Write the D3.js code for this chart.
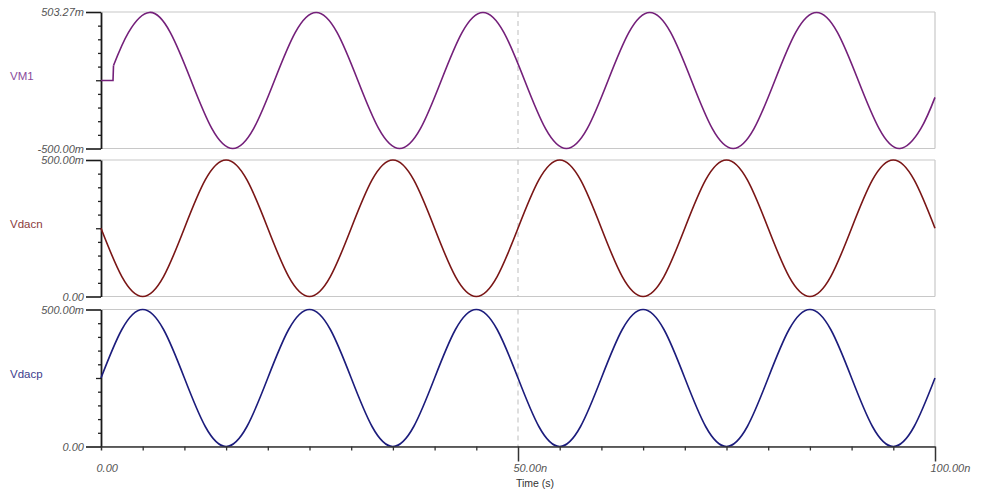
<!DOCTYPE html>
<html>
<head>
<meta charset="utf-8">
<script src="https://cdn.jsdelivr.net/npm/d3@7"></script>
<style>
  html, body { margin: 0; padding: 0; background: #fff; }
  svg { display: block; font-family: "Liberation Sans", Arial, sans-serif; }
</style>
</head>
<body>
<svg id="chart" width="984" height="503"></svg>
<script>
// ---- Data (time in ns, values in volts) ----
const timeNs = [0, 2.5, 5, 7.5, 10, 12.5, 15, 17.5, 20, 22.5, 25, 27.5, 30, 32.5, 35, 37.5,
  40, 42.5, 45, 47.5, 50, 52.5, 55, 57.5, 60, 62.5, 65, 67.5, 70, 72.5, 75, 77.5,
  80, 82.5, 85, 87.5, 90, 92.5, 95, 97.5, 100];

const vdacp = [0.25, 0.427, 0.5, 0.427, 0.25, 0.073, 0, 0.073,
  0.25, 0.427, 0.5, 0.427, 0.25, 0.073, 0, 0.073,
  0.25, 0.427, 0.5, 0.427, 0.25, 0.073, 0, 0.073,
  0.25, 0.427, 0.5, 0.427, 0.25, 0.073, 0, 0.073,
  0.25, 0.427, 0.5, 0.427, 0.25, 0.073, 0, 0.073, 0.25];

const vdacn = [0.25, 0.073, 0, 0.073, 0.25, 0.427, 0.5, 0.427,
  0.25, 0.073, 0, 0.073, 0.25, 0.427, 0.5, 0.427,
  0.25, 0.073, 0, 0.073, 0.25, 0.427, 0.5, 0.427,
  0.25, 0.073, 0, 0.073, 0.25, 0.427, 0.5, 0.427,
  0.25, 0.073, 0, 0.073, 0.25, 0.427, 0.5, 0.427, 0.25];

const vm1Time = [0, 1.44, 1.5, 3.3, 5.8, 8.3, 10.8, 13.3, 15.8, 18.3, 20.8,
  23.3, 25.8, 28.3, 30.8, 33.3, 35.8, 38.3, 40.8,
  43.3, 45.8, 48.3, 50.8, 53.3, 55.8, 58.3, 60.8,
  63.3, 65.8, 68.3, 70.8, 73.3, 75.8, 78.3, 80.8,
  83.3, 85.8, 88.3, 90.8, 93.3, 95.8, 98.3, 100];
const vm1 = [0, 0, 0.11, 0.354, 0.5, 0.354, 0, -0.354, -0.5, -0.354, 0,
  0.354, 0.5, 0.354, 0, -0.354, -0.5, -0.354, 0,
  0.354, 0.5, 0.354, 0, -0.354, -0.5, -0.354, 0,
  0.354, 0.5, 0.354, 0, -0.354, -0.5, -0.354, 0,
  0.354, 0.5, 0.354, 0, -0.354, -0.5, -0.354, -0.124];

const seriesNames = ["VM1", "Vdacn", "Vdacp"];
const yDomains = [[-0.5, 0.50327], [0, 0.5], [0, 0.5]];
const yTickLabels = [["-500.00m", "503.27m"], ["0.00", "500.00m"], ["0.00", "500.00m"]];
const xTickValues = [0, 50, 100];
const xTickLabels = ["0.00", "50.00n", "100.00n"];
const xMinorStep = 5;
const cursorTime = 50;
const xTitle = "Time (s)";

// ---- Layout ----
const lineColors = ["#74207a", "#7a1616", "#1c1c7c"];
const labelColors = ["#8a4a9c", "#8b3b3b", "#3c3c8c"];
const panels = [
  { top: 12, bottom: 148.5 },
  { top: 160, bottom: 296.5 },
  { top: 309.5, bottom: 446.5 }
];
const left = 101, right = 935;

const svg = d3.select("#chart");
const x = d3.scaleLinear().domain([0, 100]).range([left, right]);

const seriesData = [
  vm1Time.map((t, i) => [t, vm1[i]]),
  timeNs.map((t, i) => [t, vdacn[i]]),
  timeNs.map((t, i) => [t, vdacp[i]])
];

panels.forEach((p, k) => {
  const y = d3.scaleLinear().domain(yDomains[k]).range([p.bottom, p.top]);
  const g = svg.append("g");

  // frame lines (top, bottom, right)
  g.append("line").attr("x1", left).attr("x2", right).attr("y1", p.top).attr("y2", p.top)
    .attr("stroke", "#c8c8c8").attr("stroke-width", 1.2);
  g.append("line").attr("x1", left).attr("x2", right).attr("y1", p.bottom).attr("y2", p.bottom)
    .attr("stroke", "#c8c8c8").attr("stroke-width", 1.2);
  g.append("line").attr("x1", right).attr("x2", right).attr("y1", p.top).attr("y2", p.bottom)
    .attr("stroke", "#c8c8c8").attr("stroke-width", 1.2);

  // dashed cursor
  g.append("line").attr("x1", x(cursorTime)).attr("x2", x(cursorTime))
    .attr("y1", p.top).attr("y2", p.bottom)
    .attr("stroke", "#bdbdbd").attr("stroke-width", 1).attr("stroke-dasharray", "5,4");

  // minor ticks
  const [d0, d1] = yDomains[k];
  const minor = d3.range(1, 10).filter(i => i !== 5).map(i => d0 + (d1 - d0) * i / 10);
  const minorAxis = d3.axisLeft(y).tickValues(minor).tickSize(3).tickSizeOuter(0).tickFormat("");
  const mg = g.append("g").attr("transform", `translate(${left},0)`).call(minorAxis);
  mg.select(".domain").remove();
  mg.selectAll("line").attr("stroke", "#222").attr("stroke-width", 1.3);

  const midAxis = d3.axisLeft(y).tickValues([d0 + (d1 - d0) / 2]).tickSize(5).tickSizeOuter(0).tickFormat("");
  const mdg = g.append("g").attr("transform", `translate(${left},0)`).call(midAxis);
  mdg.select(".domain").remove();
  mdg.selectAll("line").attr("stroke", "#222").attr("stroke-width", 1.3);

  // major axis
  const majorAxis = d3.axisLeft(y).tickValues(yDomains[k]).tickSize(15).tickSizeOuter(0)
    .tickPadding(2).tickFormat((d, i) => yTickLabels[k][i]);
  const ag = g.append("g").attr("transform", `translate(${left},0)`).call(majorAxis);
  ag.select(".domain").attr("stroke", "#1a1a1a").attr("stroke-width", 1.8);
  ag.selectAll(".tick line").attr("stroke", "#1a1a1a").attr("stroke-width", 1.6);
  ag.selectAll(".tick text").attr("fill", "#555").attr("font-size", 11)
    .attr("font-style", "italic").attr("font-family", "Liberation Sans, Arial, sans-serif");

  // series label
  g.append("text").attr("x", 10).attr("y", (p.top + p.bottom) / 2 - 3)
    .attr("dominant-baseline", "middle")
    .attr("fill", labelColors[k]).attr("font-size", 11.5)
    .text(seriesNames[k]);

  // series line
  const data = seriesData[k];
  if (k === 0) {
    const lin = d3.line().x(d => x(d[0])).y(d => y(d[1])).curve(d3.curveLinear);
    g.append("path").attr("d", lin(data.slice(0, 3)))
      .attr("fill", "none").attr("stroke", lineColors[k]).attr("stroke-width", 1.6);
    const nat = d3.line().x(d => x(d[0])).y(d => y(d[1])).curve(d3.curveNatural);
    g.append("path").attr("d", nat(data.slice(2)))
      .attr("fill", "none").attr("stroke", lineColors[k]).attr("stroke-width", 1.6);
  } else {
    const nat = d3.line().x(d => x(d[0])).y(d => y(d[1])).curve(d3.curveNatural);
    g.append("path").attr("d", nat(data))
      .attr("fill", "none").attr("stroke", lineColors[k]).attr("stroke-width", 1.6);
  }
});

// ---- X axis ----
const xBase = panels[2].bottom;
const xMinorVals = d3.range(0, 100 + 0.001, xMinorStep).filter(v => !xTickValues.includes(v));
const xMinorAxis = d3.axisBottom(x).tickValues(xMinorVals).tickSize(4).tickSizeOuter(0).tickFormat("");
const xmg = svg.append("g").attr("transform", `translate(0,${xBase})`).call(xMinorAxis);
xmg.select(".domain").attr("stroke", "#333").attr("stroke-width", 1.6);
xmg.selectAll(".tick line").attr("stroke", "#333").attr("stroke-width", 1.3);

const xMajorAxis = d3.axisBottom(x).tickValues(xTickValues).tickSize(15).tickSizeOuter(0)
  .tickFormat((d, i) => xTickLabels[i]);
const xag = svg.append("g").attr("transform", `translate(0,${xBase})`).call(xMajorAxis);
xag.select(".domain").remove();
xag.selectAll(".tick line").attr("stroke", "#333").attr("stroke-width", 1.5)
  .attr("y2", (d) => d === 0 ? 4 : 15);
xag.selectAll(".tick text").attr("fill", "#555").attr("font-size", 11)
  .attr("font-style", "italic").attr("text-anchor", "start")
  .attr("x", -5).attr("y", 18).attr("dy", "0.71em");

svg.append("text").attr("x", 535).attr("y", 484).attr("text-anchor", "middle")
  .attr("dominant-baseline", "middle").attr("fill", "#333").attr("font-size", 10.5)
  .text(xTitle);
</script>
</body>
</html>
